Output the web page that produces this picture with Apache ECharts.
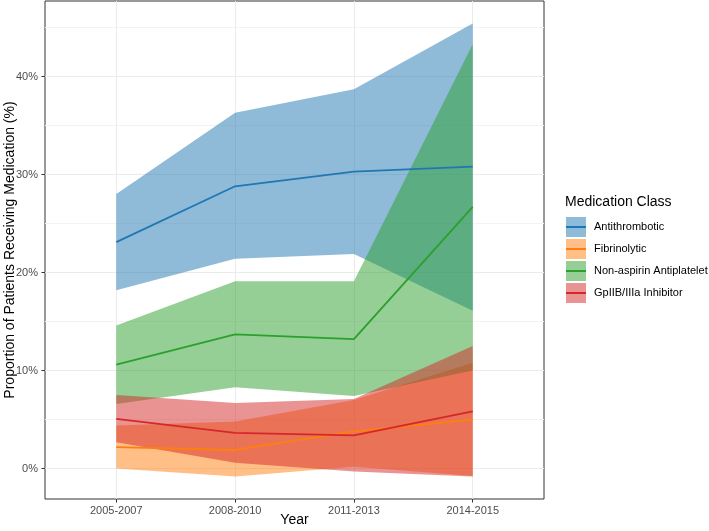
<!DOCTYPE html>
<html>
<head>
<meta charset="utf-8">
<script src="https://cdn.jsdelivr.net/npm/echarts@6/dist/echarts.min.js"></script>
<style>
  html, body { margin: 0; padding: 0; background: #ffffff; }
  #chart { width: 709px; height: 531px; }
</style>
</head>
<body>
<div id="chart"></div>
<script>
// ---- data (percent) ----
const categories = ['2005-2007', '2008-2010', '2011-2013', '2014-2015'];
const seriesNames = ['Antithrombotic', 'Fibrinolytic', 'Non-aspirin Antiplatelet', 'GpIIB/IIIa Inhibitor'];
const seriesColors = ['#1f77b4', '#ff7f0e', '#2ca02c', '#d62728'];
const bandColors = ['rgba(31,119,180,0.5)', 'rgba(255,127,14,0.5)', 'rgba(44,160,44,0.5)', 'rgba(214,39,40,0.5)'];

const antithromboticEst = [23.1, 28.8, 30.3, 30.8];
const antithromboticLow = [18.2, 21.4, 21.9, 16.1];
const antithromboticHigh = [28.0, 36.3, 38.7, 45.4];

const fibrinolyticEst = [2.2, 1.9, 3.8, 5.0];
const fibrinolyticLow = [0.0, -0.8, 0.2, -0.75];
const fibrinolyticHigh = [4.4, 4.8, 7.0, 10.8];

const nonAspirinEst = [10.6, 13.7, 13.2, 26.7];
const nonAspirinLow = [6.6, 8.3, 7.4, 10.0];
const nonAspirinHigh = [14.6, 19.1, 19.1, 43.3];

const gpEst = [5.07, 3.65, 3.4, 5.85];
const gpLow = [2.7, 0.6, -0.3, -0.8];
const gpHigh = [7.5, 6.7, 7.1, 12.5];

const yMajorTicks = [0, 10, 20, 30, 40];
const yMinorTicks = [5, 15, 25, 35, 45];
const xTicks = [0, 1, 2, 3];

const groups = [
  { est: antithromboticEst, low: antithromboticLow, high: antithromboticHigh },
  { est: fibrinolyticEst, low: fibrinolyticLow, high: fibrinolyticHigh },
  { est: nonAspirinEst, low: nonAspirinLow, high: nonAspirinHigh },
  { est: gpEst, low: gpLow, high: gpHigh }
];

const FONT = "'Liberation Sans', Arial, sans-serif";
const chart = echarts.init(document.getElementById('chart'), null, { renderer: 'canvas' });

const series = [];
groups.forEach((g, k) => {
  series.push({
    type: 'custom',
    name: seriesNames[k] + ' band',
    coordinateSystem: 'cartesian2d',
    xAxisIndex: 0, yAxisIndex: 0,
    clip: true,
    silent: true,
    data: [[0, g.est[0]]],
    renderItem: function (params, api) {
      const pts = [];
      for (let i = 0; i < categories.length; i++) pts.push(api.coord([i, g.high[i]]));
      for (let i = categories.length - 1; i >= 0; i--) pts.push(api.coord([i, g.low[i]]));
      return { type: 'polygon', shape: { points: pts }, style: { fill: bandColors[k], stroke: null } };
    }
  });
  series.push({
    type: 'line',
    name: seriesNames[k],
    xAxisIndex: 0, yAxisIndex: 0,
    data: g.est.map((v, i) => [i, v]),
    showSymbol: false,
    symbol: 'none',
    lineStyle: { color: seriesColors[k], width: 1.8 },
    itemStyle: { color: seriesColors[k] },
    silent: true
  });
});

// legend line icon: 20x20 bounding box with a thin centred bar
const LINE_ICON = 'path://M0,0L0.01,0L0.01,0.01Z M0,9.1L20,9.1L20,10.9L0,10.9Z M19.99,19.99L20,19.99L20,20Z';

const option = {
  animation: false,
  backgroundColor: '#ffffff',
  textStyle: { fontFamily: FONT },
  grid: {
    left: 45, right: 165, top: 1, bottom: 32,
    outerBoundsMode: 'none',
    show: true, borderColor: '#333333', borderWidth: 1, backgroundColor: 'transparent',
    containLabel: false
  },
  title: {
    text: 'Medication Class',
    left: 565, top: 195,
    padding: 0,
    textStyle: { fontFamily: FONT, fontSize: 14, fontWeight: 'normal', color: '#000000' }
  },
  legend: [
    {
      orient: 'vertical', left: 566, top: 217, padding: 0,
      itemWidth: 20, itemHeight: 20, itemGap: 2,
      selectedMode: false,
      textStyle: { fontFamily: FONT, fontSize: 11, color: '#000000', padding: [0, 0, 0, 3] },
      data: seriesNames.map((n, k) => ({ name: n, icon: 'rect', itemStyle: { color: bandColors[k], borderWidth: 0 } }))
    },
    {
      orient: 'vertical', left: 566, top: 217, padding: 0,
      itemWidth: 20, itemHeight: 20, itemGap: 2,
      selectedMode: false,
      textStyle: { fontFamily: FONT, fontSize: 11, color: 'rgba(0,0,0,0)', padding: [0, 0, 0, 3] },
      data: seriesNames.map((n, k) => ({ name: n, icon: LINE_ICON, itemStyle: { color: seriesColors[k], borderWidth: 0 } }))
    }
  ],
  xAxis: [{
    type: 'value',
    min: -0.6, max: 3.6,
    name: 'Year', nameLocation: 'middle', nameGap: 14, nameMoveOverlap: false,
    nameTextStyle: { fontFamily: FONT, fontSize: 14, color: '#000000', verticalAlign: 'top' },
    axisLine: { show: false, onZero: false },
    axisTick: { show: true, length: 3.5, customValues: xTicks, lineStyle: { color: '#333333', width: 1 } },
    axisLabel: {
      show: true, margin: 6, customValues: xTicks,
      fontFamily: FONT, fontSize: 11, color: '#4d4d4d',
      formatter: function (v) { return categories[Math.round(v)]; }
    },
    splitLine: { show: true, lineStyle: { color: '#ebebeb', width: 1 } }
  }],
  yAxis: [{
    type: 'value',
    min: -3.1, max: 47.7,
    name: 'Proportion of Patients Receiving Medication (%)',
    nameLocation: 'middle', nameGap: 28, nameMoveOverlap: false,
    nameTextStyle: { fontFamily: FONT, fontSize: 14, color: '#000000' },
    axisLine: { show: false, onZero: false },
    axisTick: { show: true, length: 3.5, customValues: yMajorTicks, lineStyle: { color: '#333333', width: 1 } },
    axisLabel: {
      show: true, margin: 7, customValues: yMajorTicks,
      fontFamily: FONT, fontSize: 11, color: '#4d4d4d',
      formatter: function (v) { return v + '%'; }
    },
    splitLine: { show: true, lineStyle: { color: '#ebebeb', width: 1 } }
  }, {
    type: 'value',
    position: 'left',
    min: -3.1, max: 47.7,
    axisLine: { show: false, onZero: false },
    axisTick: { show: false, customValues: yMinorTicks },
    axisLabel: { show: false, customValues: yMinorTicks },
    splitLine: { show: true, lineStyle: { color: '#f3f3f3', width: 1 } }
  }],
  series: series
};
chart.setOption(option);
</script>
</body>
</html>
